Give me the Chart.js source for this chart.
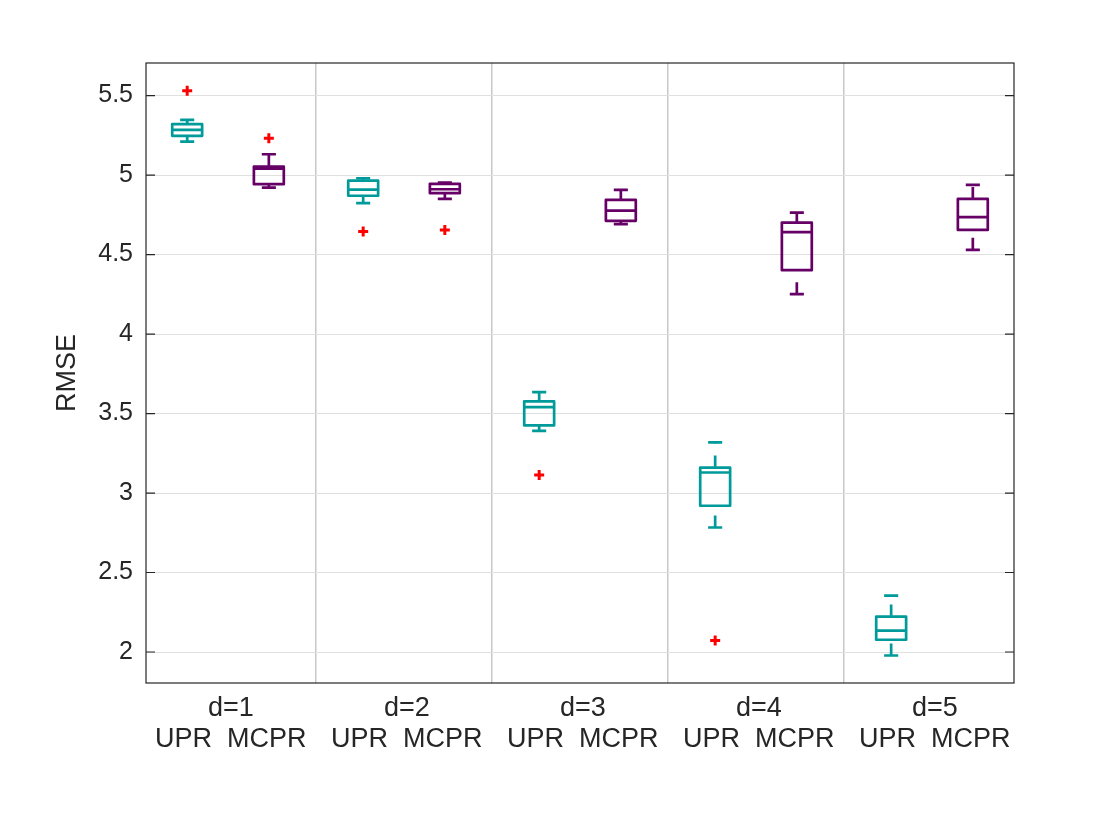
<!DOCTYPE html>
<html>
<head>
<meta charset="utf-8">
<script src="https://cdn.jsdelivr.net/npm/chart.js@4.4.1/dist/chart.umd.min.js"></script>
<style>
  html, body { margin: 0; padding: 0; background: #fff; }
</style>
</head>
<body>
<canvas id="main-chart" width="1120" height="840"></canvas>
<script>
const GROUPS = ['d=1', 'd=2', 'd=3', 'd=4', 'd=5']
const METHODS = ['UPR', 'MCPR']

// box summaries, one value per group
const UPR_LOW = [5.21, 4.823, 3.391, 2.783, 1.978]
const UPR_Q1 = [5.247, 4.87, 3.425, 2.92, 2.077]
const UPR_MED = [5.284, 4.908, 3.54, 3.129, 2.135]
const UPR_Q3 = [5.32, 4.965, 3.576, 3.16, 2.223]
const UPR_HIGH = [5.347, 4.98, 3.635, 3.318, 2.355]
const UPR_OUTLIERS = [[5.53], [4.645], [3.114], [2.072], []]

const MCPR_LOW = [4.921, 4.85, 4.691, 4.251, 4.53]
const MCPR_Q1 = [4.943, 4.886, 4.712, 4.402, 4.655]
const MCPR_MED = [5.04, 4.911, 4.777, 4.641, 4.735]
const MCPR_Q3 = [5.053, 4.945, 4.844, 4.701, 4.85]
const MCPR_HIGH = [5.131, 4.953, 4.907, 4.764, 4.938]
const MCPR_OUTLIERS = [[5.232], [4.655], [], [], []]

const Y_TICKS = [2, 2.5, 3, 3.5, 4, 4.5, 5, 5.5]

// layout of boxes inside a group (x units = one group)
const OFFSETS = [0.268, 0.732]
const BOX_HALF = 0.085
const CAP_HALF = 0.04
const LABEL_SHIFT = 0.516

const TEXT_COLOR = '#262626'
const FONT = '"Liberation Sans", Arial, Helvetica, sans-serif'

const buildBoxDatasets = (color, low, q1, med, q3, high, outliers, offset) => {
  const box = []
  const median = []
  const caps = []
  const whiskers = []
  const points = []
  low.forEach((_, g) => {
    const x = g + offset
    box.push(
      { x: x - BOX_HALF, y: q1[g] }, { x: x + BOX_HALF, y: q1[g] },
      { x: x + BOX_HALF, y: q3[g] }, { x: x - BOX_HALF, y: q3[g] },
      { x: x - BOX_HALF, y: q1[g] }, { x: x, y: null }
    )
    median.push({ x: x - BOX_HALF, y: med[g] }, { x: x + BOX_HALF, y: med[g] }, { x: x, y: null })
    caps.push(
      { x: x - CAP_HALF, y: low[g] }, { x: x + CAP_HALF, y: low[g] }, { x: x, y: null },
      { x: x - CAP_HALF, y: high[g] }, { x: x + CAP_HALF, y: high[g] }, { x: x, y: null }
    )
    // whiskers run upward, so the dash pattern starts at the lower end
    whiskers.push(
      { x: x, y: low[g] }, { x: x, y: q1[g] }, { x: x + 0.001, y: null },
      { x: x, y: q3[g] }, { x: x, y: high[g] }, { x: x + 0.001, y: null }
    )
    outliers[g].forEach(v => points.push({ x: x, y: v }))
  })

  const lineStyle = {
    showLine: true,
    borderColor: color,
    borderWidth: 2.7,
    borderJoinStyle: 'round',
    pointRadius: 0,
    pointHitRadius: 0,
    spanGaps: false,
    fill: false
  }

  return [
    { ...lineStyle, data: box },
    { ...lineStyle, data: median },
    { ...lineStyle, data: caps },
    { ...lineStyle, data: whiskers, borderDash: [12, 12] },
    {
      data: points,
      showLine: false,
      pointStyle: 'cross',
      pointRadius: 5,
      borderWidth: 3,
      borderColor: '#ff0000',
      backgroundColor: '#ff0000'
    }
  ]
}

const framePlugin = {
  id: 'frame',
  afterDatasetsDraw(chart) {
    const { ctx, chartArea: a, scales: { y } } = chart
    ctx.save()
    ctx.strokeStyle = TEXT_COLOR
    ctx.lineWidth = 1.2
    ctx.strokeRect(a.left, a.top, a.right - a.left, a.bottom - a.top)
    ctx.beginPath()
    Y_TICKS.forEach(v => {
      const py = y.getPixelForValue(v)
      ctx.moveTo(a.left, py)
      ctx.lineTo(a.left + 9, py)
      ctx.moveTo(a.right, py)
      ctx.lineTo(a.right - 9, py)
    })
    ctx.stroke()
    ctx.restore()
  }
}

const X_MIN = 0.034
const X_MAX = 4.966

const datasets = [
  ...buildBoxDatasets('#009a9a', UPR_LOW, UPR_Q1, UPR_MED, UPR_Q3, UPR_HIGH, UPR_OUTLIERS, OFFSETS[0]),
  ...buildBoxDatasets('#660066', MCPR_LOW, MCPR_Q1, MCPR_MED, MCPR_Q3, MCPR_HIGH, MCPR_OUTLIERS, OFFSETS[1])
]

new Chart(document.getElementById('main-chart').getContext('2d'), {
  type: 'scatter',
  data: { datasets },
  plugins: [framePlugin],
  options: {
    responsive: false,
    animation: false,
    events: [],
    layout: { padding: { top: 63, right: 106, left: 0, bottom: 0 } },
    plugins: {
      legend: { display: false },
      tooltip: { enabled: false }
    },
    scales: {
      x: {
        type: 'linear',
        position: 'bottom',
        min: X_MIN,
        max: X_MAX,
        grid: { display: false },
        border: { display: false },
        afterBuildTicks: scale => {
          scale.ticks = GROUPS.map((_, g) => ({ value: g + LABEL_SHIFT }))
        },
        afterFit: scale => { scale.height = 157 },
        ticks: {
          autoSkip: false,
          maxRotation: 0,
          padding: 2,
          color: TEXT_COLOR,
          font: { family: FONT, size: 27, lineHeight: 1.15 },
          callback: (value, index) => [GROUPS[index], METHODS.join('  ')]
        }
      },
      xs: {
        type: 'linear',
        position: 'bottom',
        min: X_MIN,
        max: X_MAX,
        border: { display: false },
        grid: { color: '#c8c8c8', lineWidth: 1.5, drawTicks: false },
        ticks: { display: false },
        afterBuildTicks: scale => {
          scale.ticks = GROUPS.slice(1).map((_, g) => ({ value: g + 1 }))
        },
        afterFit: scale => { scale.height = 0 }
      },
      y: {
        type: 'linear',
        min: 1.805,
        max: 5.705,
        border: { display: false },
        grid: { color: '#e0e0e0', lineWidth: 1, drawTicks: false },
        afterBuildTicks: scale => {
          scale.ticks = Y_TICKS.map(v => ({ value: v }))
        },
        afterFit: scale => { scale.width = 146 },
        ticks: {
          padding: 13,
          color: TEXT_COLOR,
          font: { family: FONT, size: 25 },
          callback: value => String(value)
        },
        title: {
          display: true,
          text: 'RMSE',
          color: TEXT_COLOR,
          font: { family: FONT, size: 27 },
          padding: { top: 51, bottom: 0 }
        }
      }
    }
  }
})
</script>
</body>
</html>
